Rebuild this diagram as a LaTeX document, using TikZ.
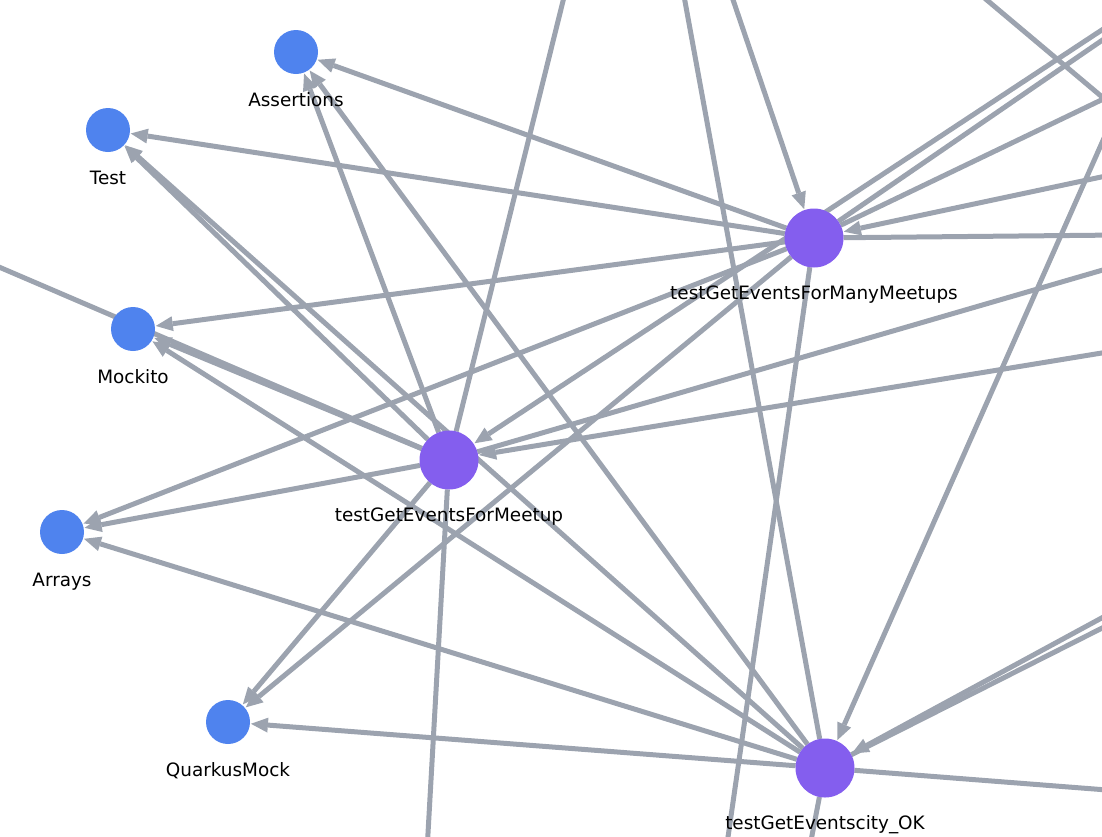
\documentclass[tikz,border=0pt]{standalone}
\usepackage{fontspec}
\setmainfont{DejaVu Sans}
\usetikzlibrary{arrows.meta,backgrounds}

\definecolor{edgegray}{HTML}{9CA3AF}
\definecolor{libblue}{HTML}{4F83EE}
\definecolor{testviolet}{HTML}{845EEE}

\begin{document}
\begin{tikzpicture}[x=1pt,y=-1pt,shorten >=1pt,label distance=32pt,
    lib/.style={circle,fill=libblue,minimum size=44pt,inner sep=0pt,outer sep=0pt},
    method/.style={circle,fill=testviolet,minimum size=59pt,inner sep=0pt,outer sep=0pt},
    tag/.style={label={[anchor=base,font=\fontsize{18.4}{22}\selectfont]below:#1}},
    wire/.style={color=edgegray,draw,line width=5pt},
    dep/.style={wire,-{Triangle[length=17pt,width=15pt,line width=0pt]}}]
        \useasboundingbox (0,0) rectangle (1102,836);
        \node[lib,tag=Assertions] (assertions) at (296,52) {};
        \node[lib,tag=Test] (test) at (108,130) {};
        \node[lib,tag=Mockito] (mockito) at (133,329) {};
        \node[lib,tag=Arrays] (arrays) at (62,532) {};
        \node[lib,tag=QuarkusMock] (quarkus) at (228,722) {};
        \node[method,tag=testGetEventsForManyMeetups] (many) at (814,238) {};
        \node[method,tag=testGetEventsForMeetup] (meetup) at (449,460) {};
        \node[method,tag=testGetEventscity\_OK] (city) at (825,768) {};
        % ends of the links that leave the picture
        \coordinate (top_1) at (728,-15);
        \coordinate (top_2) at (567,-15);
        \coordinate (top_3) at (682,-15);
        \coordinate (top_4) at (969,-15);
        \coordinate (right_1) at (1120,18);
        \coordinate (right_2) at (1120,28);
        \coordinate (right_3) at (1120,91);
        \coordinate (right_4) at (1120,102);
        \coordinate (right_5) at (1120,173);
        \coordinate (right_6) at (1120,235);
        \coordinate (right_7) at (1120,265);
        \coordinate (right_8) at (1120,350);
        \coordinate (right_9) at (1120,608);
        \coordinate (right_10) at (1120,619);
        \coordinate (right_11) at (1120,791);
        \coordinate (right_12) at (1120,112);
        \coordinate (bottom_1) at (726,851);
        \coordinate (bottom_2) at (427,851);
        \coordinate (bottom_3) at (809,851);
        \coordinate (left_1) at (-15,261);
        \begin{scope}[on background layer]
        \path[dep]
            (many) edge (assertions)
                   edge (test)
                   edge (mockito)
                   edge (arrays)
                   edge (quarkus)
            (meetup) edge (assertions)
                     edge (test)
                     edge (mockito)
                     edge (arrays)
                     edge (quarkus)
            (city) edge (assertions)
                   edge (test)
                   edge (mockito)
                   edge (arrays)
                   edge (quarkus)
            (top_1) edge (many)
            (right_5) edge (many)
            (right_1) edge (meetup)
            (right_8) edge (meetup)
            (right_4) edge (city)
            (right_9) edge (city);
        \path[wire]
            (many) edge (right_2)
                   edge (right_3)
                   edge (right_6)
                   edge (bottom_1)
            (meetup) edge (top_2)
                     edge (right_7)
                     edge (bottom_2)
                     edge (left_1)
            (city) edge (top_3)
                   edge (right_10)
                   edge (right_11)
                   edge (bottom_3)
            (top_4) edge (right_12);
        \end{scope}
\end{tikzpicture}
\end{document}
